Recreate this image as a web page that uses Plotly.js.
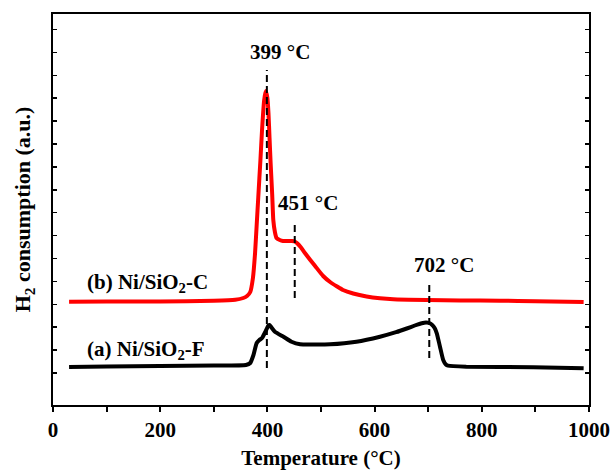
<!DOCTYPE html>
<html>
<head>
<meta charset="utf-8">
<script src="https://cdn.plot.ly/plotly-3.0.1.min.js"></script>
<style>html,body{margin:0;padding:0;background:#fff;}#chart{width:611px;height:470px;}</style>
</head>
<body>
<div id="chart"></div>
<script>
// Temperature (°C) and H2 consumption (a.u.)
const tempB = [30, 100, 200, 300, 340, 355, 362, 368, 373, 377, 380, 383, 387, 390, 394, 397, 400, 402, 404, 406, 409, 411, 414, 417, 423, 429, 437, 446, 451, 455, 462, 470, 480, 489, 504, 517, 530, 541, 560, 585, 610, 635, 697, 760, 834, 900, 990];
const sigB  = [103.3, 103.4, 103.6, 104.2, 105.2, 107, 109, 113, 127, 152, 180, 208, 245, 275, 305, 314, 307, 292, 267, 242, 210, 185, 173, 167, 165, 164, 164, 164, 163.5, 162, 158, 152, 145, 139, 129, 123, 118.5, 115, 111.5, 108.5, 106.7, 105.7, 105, 104.6, 104.3, 103.8, 103];

const tempA = [30, 100, 200, 300, 360, 368, 374, 380, 385, 390, 396, 402, 404, 407, 414, 430, 445, 461, 490, 517, 566, 610, 640, 660, 675, 688, 696, 702, 707, 712, 716, 722, 728, 733, 737, 771, 896, 990];
const sigA  = [38, 38.5, 39, 39.5, 40, 42, 50, 62, 65, 67, 73, 79.5, 80, 78, 73.3, 68.3, 63.3, 60.7, 60.5, 60.7, 63.3, 68.3, 72.8, 76.5, 79.5, 81.8, 82.5, 82, 80.3, 77, 71.7, 58.3, 45, 40.5, 39.3, 38.3, 37.7, 36.7];

const seriesNames = ['(a) Ni/SiO<sub>2</sub>-F', '(b) Ni/SiO<sub>2</sub>-C'];
const peakTemps = [399, 451, 702];
const peakLineTop = [335, 183, 121];
const peakLineBottom = [37, 107, 47];
const xTickVals = [0, 200, 400, 600, 800, 1000];
const xTickText = ['0', '200', '400', '600', '800', '1000'];

const FONT = 'Liberation Serif, Times New Roman, serif';
const traces = [];
traces.push({x: tempA, y: sigA, mode: 'lines', line: {color: '#000000', width: 4, shape: 'spline', smoothing: 0.5}, hoverinfo: 'skip'});
traces.push({x: tempB, y: sigB, mode: 'lines', line: {color: '#ff0000', width: 4, shape: 'spline', smoothing: 0.5}, hoverinfo: 'skip'});
for (let i = 0; i < peakTemps.length; i++) {
  traces.push({x: [peakTemps[i], peakTemps[i]], y: [peakLineBottom[i], peakLineTop[i]], mode: 'lines',
    line: {color: '#000000', width: 2, dash: '7px,4px'}, hoverinfo: 'skip'});
}

const yTicks = [];
for (let i = 0; i < 16; i++) yTicks.push(32 + 22.9 * i);

const annFont = {family: FONT, size: 21, color: '#000', weight: 'bold'};
const layout = {
  width: 611, height: 470,
  margin: {l: 53, r: 22, t: 14, b: 65},
  paper_bgcolor: '#fff', plot_bgcolor: '#fff',
  showlegend: false,
  font: {family: FONT, size: 21, color: '#000', weight: 'bold'},
  xaxis: {
    range: [0, 1000], tickmode: 'array', tickvals: xTickVals, ticktext: xTickText,
    ticks: 'outside', ticklen: 5, tickwidth: 2, tickcolor: '#000',
    minor: {dtick: 100, ticks: 'outside', ticklen: 5, tickwidth: 2, tickcolor: '#000'},
    showline: true, linewidth: 2, linecolor: '#000', mirror: true,
    showgrid: false, zeroline: false,
    tickfont: {family: FONT, size: 21, color: '#000', weight: 'bold'},
    title: {text: 'Temperature (°C)', font: {family: FONT, size: 21, color: '#000', weight: 'bold'}, standoff: 11}
  },
  yaxis: {
    range: [0, 391], tickmode: 'array', tickvals: yTicks, showticklabels: false,
    ticks: 'inside', ticklen: 4, tickwidth: 1.5, tickcolor: '#000',
    showline: true, linewidth: 2, linecolor: '#000', mirror: 'ticks',
    showgrid: false, zeroline: false,
    title: {text: 'H<sub>2</sub> consumption (a.u.)', font: {family: FONT, size: 22, color: '#000', weight: 'bold'}, standoff: 14}
  },
  annotations: [
    {x: 423, y: 353, text: peakTemps[0] + ' °C', showarrow: false, xanchor: 'center', yanchor: 'middle', font: annFont},
    {x: 475, y: 202, text: peakTemps[1] + ' °C', showarrow: false, xanchor: 'center', yanchor: 'middle', font: annFont},
    {x: 729, y: 140, text: peakTemps[2] + ' °C', showarrow: false, xanchor: 'center', yanchor: 'middle', font: annFont},
    {x: 59, y: 122, text: seriesNames[1], showarrow: false, xanchor: 'left', yanchor: 'middle', font: annFont},
    {x: 59, y: 55, text: seriesNames[0], showarrow: false, xanchor: 'left', yanchor: 'middle', font: annFont}
  ]
};
Plotly.newPlot('chart', traces, layout, {staticPlot: true, displayModeBar: false});
</script>
</body>
</html>
